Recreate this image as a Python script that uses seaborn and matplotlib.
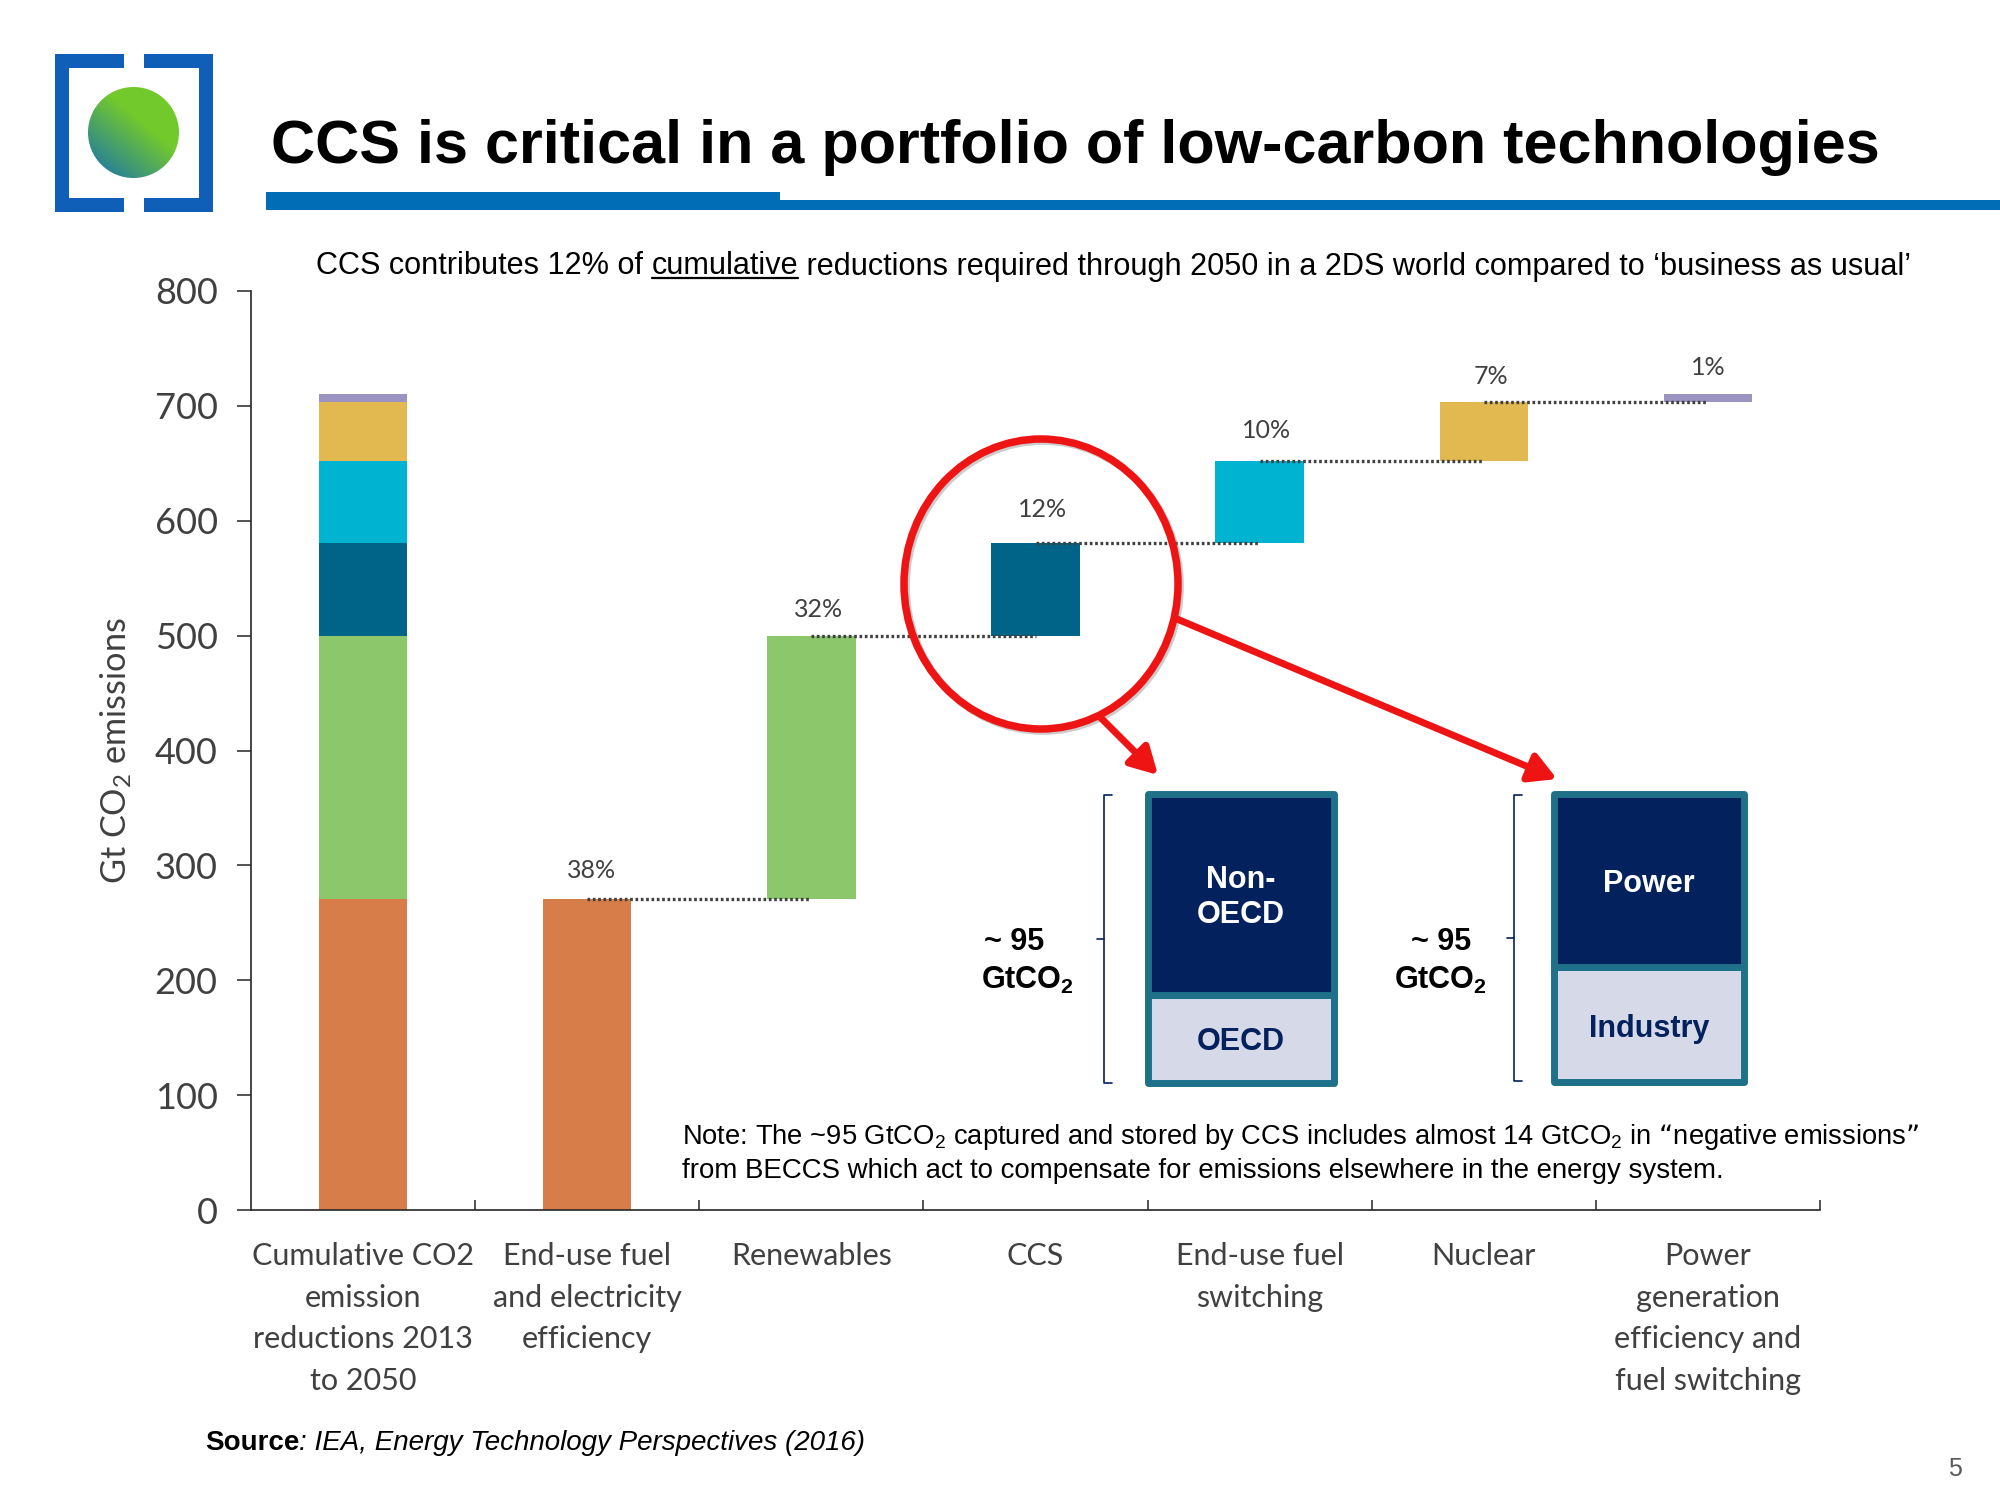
import numpy as np
import matplotlib
matplotlib.use("Agg")
import matplotlib.pyplot as plt
import matplotlib.patheffects as pe
from matplotlib.patches import Ellipse, FancyArrowPatch, Rectangle
import seaborn as sns

# values
categories = ["Cumulative CO2\nemission\nreductions 2013\nto 2050",
              "End-use fuel\nand electricity\nefficiency",
              "Renewables",
              "CCS",
              "End-use fuel\nswitching",
              "Nuclear",
              "Power\ngeneration\nefficiency and\nfuel switching"]
reductions = [271, 229, 81, 71, 51, 7]
shares = ["38%", "32%", "12%", "10%", "7%", "1%"]
bar_colors = ["#D67D4A", "#8DC76B", "#006488", "#00B3D0", "#E2B851", "#9C94C0"]
y_ticks = [0, 100, 200, 300, 400, 500, 600, 700, 800]

region_names = ["OECD", "Non-OECD"]
region_values = [29, 66]
sector_names = ["Industry", "Power"]
sector_values = [38, 57]
inset_colors = ["#D6DAE8", "#03215C"]

# nudges for the percent labels, in points
share_dx = [3, 5, 5, 5, 5, 0]
share_dy = [20, 18.5, 24, 22, 19, 19]

W, H = 2000, 1500
ARIAL = "Liberation Sans"
LABEL_FONT = "Lato"
RED = "#EE1414"
NAVY = "#03215C"
BLUE = "#006DB6"

sns.set_theme(style="white")
plt.rcParams["font.family"] = [ARIAL, "DejaVu Sans"]
plt.rcParams["mathtext.default"] = "regular"

fig = plt.figure(figsize=(20, 15), dpi=100, facecolor="white")


def px_axes(x0, y0, x1, y1, **kw):
    # axes from pixel corners, y counted from the top
    return fig.add_axes([x0 / W, 1 - y1 / H, (x1 - x0) / W, (y1 - y0) / H], **kw)


# main waterfall chart
ax = px_axes(251, 291, 1820, 1210)
bottom = 0
for i, (val, col) in enumerate(zip(reductions, bar_colors)):
    # the total bar and the step bar share colour and level
    for cat in (categories[0], categories[i + 1]):
        sns.barplot(x=[cat], y=[val], order=categories, bottom=bottom, color=col,
                    saturation=1, width=0.395, linewidth=0, ax=ax)
    bottom += val

levels = np.cumsum(reductions)
for i, (level, share) in enumerate(zip(levels, shares)):
    if i < len(levels) - 1:
        ax.plot([i + 1, i + 2], [level, level], color="#404040", lw=2.4,
                ls=(0, (0.8, 0.8)), zorder=4)
    ax.annotate(share, (i + 1, level), xytext=(share_dx[i], share_dy[i]), textcoords="offset points",
                ha="center", va="center", fontsize=18, family=LABEL_FONT, color="#404040")

ax.set_ylim(0, 800)
ax.set_xlim(-0.5, 6.5)
ax.set_yticks(y_ticks)
ax.set_xticks(range(len(categories)))
ax.set_xticklabels(categories, family=LABEL_FONT, fontsize=22, color="#404040",
                   linespacing=1.59, va="top")
ax.set_xticks(np.arange(0.5, 7), minor=True)
ax.tick_params(axis="x", which="major", length=0, pad=23)
ax.tick_params(axis="x", which="minor", direction="in", length=7, width=1.1,
               color="#262626", bottom=True)
ax.tick_params(axis="y", direction="out", length=10, width=1.1, color="#262626", left=True,
               pad=14, labelsize=26, labelcolor="#404040")
for lab in ax.get_yticklabels():
    lab.set_family(LABEL_FONT)
ax.set_xlabel("")
ax.set_ylabel("Gt CO$_2$ emissions", family=LABEL_FONT, fontsize=24.7, color="#404040")
ax.yaxis.set_label_coords((134 - 251) / (1820 - 251), 0.5)
sns.despine(ax=ax)
for side in ("left", "bottom"):
    ax.spines[side].set_color("#262626")
    ax.spines[side].set_linewidth(1.2)


# overlay in image pixels for the slide furniture
over = fig.add_axes([0, 0, 1, 1], zorder=5)
over.patch.set_alpha(0)
over.axis("off")

# logo: brackets and gradient disc
gx, gy = np.meshgrid(np.linspace(0, 1, 200), np.linspace(0, 1, 200))
t = np.clip(0.75 * (1 - gx) + 0.9 * gy - 0.65, 0, 1)[..., None]
grad = (1 - t) * np.array([0.45, 0.79, 0.17]) + t * np.array([0.08, 0.43, 0.70])
img = over.imshow(grad, extent=(88, 179, 178, 87), aspect="auto", zorder=2)
disc = Ellipse((133.5, 132.5), 91, 91, transform=over.transData, fc="none", ec="none")
over.add_patch(disc)
img.set_clip_path(disc)
logo_blue = "#0F5FB8"
for x0, y0, w, h in [(55, 54, 69, 14), (144, 54, 69, 14), (55, 198, 69, 14), (144, 198, 69, 14),
                     (55, 54, 14, 158), (199, 54, 14, 158)]:
    over.add_patch(Rectangle((x0, y0), w, h, fc=logo_blue, ec="none"))

# title and rule
over.add_patch(Rectangle((266, 192), 514, 18, fc=BLUE, ec="none"))
over.add_patch(Rectangle((780, 200), W - 780, 10, fc=BLUE, ec="none"))
over.text(271, 147, "CCS is critical in a portfolio of low-carbon technologies",
          fontsize=44, fontweight="bold", color="black", va="center", ha="left")


def chain_text(x, y, parts):
    # write pieces one after the other, returns the extents of each
    rend = fig.canvas.get_renderer()
    spans = []
    for text, kw in parts:
        piece = over.text(x, y, text, va="center", ha="left", color="black", **kw)
        box = piece.get_window_extent(rend)
        spans.append((x, x + box.width))
        x += box.width
    return spans


spans = chain_text(316, 266.5, [("CCS contributes 12% of ", dict(fontsize=22.03)),
                                ("cumulative", dict(fontsize=22.03)),
                                (" reductions required through 2050 in a 2DS world compared to ‘business as usual’",
                                 dict(fontsize=22.03))])
over.plot(spans[1], [278, 278], color="black", lw=1.6)

# red circle and arrows
over.add_patch(Ellipse((1041, 584), 274, 290, fc="none", ec=RED, lw=5.4, zorder=3,
                       path_effects=[pe.SimpleLineShadow(offset=(1.5, -1.5), shadow_color="gray", alpha=0.4),
                                     pe.Normal()]))
for start, tip in [((1177, 619), (1557, 779)), ((1101, 718), (1158, 775))]:
    over.add_patch(FancyArrowPatch(start, tip, arrowstyle="-|>,head_length=0.9,head_width=0.5",
                                   mutation_scale=18, lw=5, color=RED, shrinkA=0, shrinkB=0, zorder=3))

# small stacked boxes for the ~95 Gt split


def inset_bar(x0, y0, x1, y1, values):
    bx = px_axes(x0, y0, x1, y1)
    base = 0
    for val, col in zip(values, inset_colors):
        sns.barplot(x=["CCS"], y=[val], bottom=base, color=col, saturation=1, width=1,
                    edgecolor="#1F7089", linewidth=5, ax=bx)
        base += val
    for bar in bx.patches:
        bar.set_clip_on(False)
        bar.set_joinstyle("round")
    bx.set_xlim(-0.5, 0.5)
    bx.set_ylim(0, sum(values))
    bx.axis("off")


inset_bar(1148, 794, 1333.5, 1083, region_values)
inset_bar(1554, 794, 1743.5, 1082, sector_values)

bold = dict(fontsize=22, fontweight="bold", ha="center", va="center")
over.text(1241, 897.5, "Non-\nOECD", color="white", linespacing=1.25, **bold)
over.text(1241, 1042.5, "OECD", color=NAVY, **bold)
over.text(1649, 883.5, "Power", color="white", **bold)
over.text(1649, 1029.5, "Industry", color=NAVY, **bold)

# brackets next to the boxes
for bx_x, top, low, mid in [(1104, 795, 1083, 939), (1514, 795, 1081, 938)]:
    over.plot([bx_x + 8, bx_x, bx_x, bx_x + 8], [top, top, low, low], color=NAVY, lw=1.2)
    over.plot([bx_x - 7, bx_x], [mid, mid], color=NAVY, lw=1.2)

for cx, cx2 in [(1014, 1027), (1441, 1440)]:
    over.text(cx, 942.5, "~ 95", color="black", **bold)
    over.text(cx2, 980.5, "GtCO$_2$", color="black", **bold)

# note, source and page number
over.text(682, 1137.5, "Note: The ~95 GtCO$_2$ captured and stored by CCS includes almost 14 GtCO$_2$ in “negative emissions”",
          fontsize=19.75, color="black", va="center", ha="left")
over.text(682, 1170.5, "from BECCS which act to compensate for emissions elsewhere in the energy system.",
          fontsize=19.9, color="black", va="center", ha="left")
chain_text(205, 1442.5, [("Source", dict(fontsize=20, fontweight="bold")),
                         (": IEA, Energy Technology Perspectives (2016)", dict(fontsize=20, style="italic"))])
over.text(1955, 1468.5, "5", fontsize=18, color="#595959", va="center", ha="center")

over.set_xlim(0, W)
over.set_ylim(H, 0)

fig.savefig("out.png", dpi=100)
